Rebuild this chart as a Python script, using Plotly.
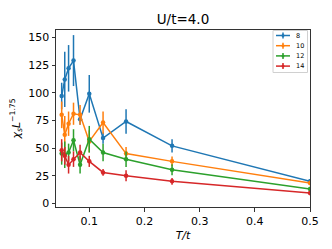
import plotly.graph_objects as go

T = [0.05, 1/18, 0.0625, 1/14, 1/12, 0.1, 0.125, 1/6, 0.25, 0.5]
labels = ["8", "10", "12", "14"]
colors = ["#1f77b4", "#ff7f0e", "#2ca02c", "#d62728"]

y8 = [97, 112, 122, 129, 76, 99, 59, 74, 52, 20]
e8 = [12, 25, 21, 23, 5, 17, 5, 11, 6, 2]
y10 = [80, 62, 72, 81, 80, 56, 73, 45, 38, 18.5]
e10 = [12, 17, 11, 10, 9, 10, 10, 6, 4.5, 2]
y12 = [45, 44, 46, 57, 35, 58, 46, 40, 30.5, 13]
e12 = [10, 12, 8, 10, 8, 12, 8, 7, 5, 2]
y14 = [48, 43, 35, 40, 46, 38, 28, 25, 20, 9.5]
e14 = [10, 8, 8, 7, 7, 5, 3, 5, 3, 2]

series = [y8, y10, y12, y14]
errs = [e8, e10, e12, e14]

# page body has an 8px default margin: compensate so plot lands where reference has it
OFF = 8
W, H = 332, 249
ML, MR, MT, MB = 56 - OFF, 22 + OFF, 30 - OFF, 42 + OFF
PW, PH = W - ML - MR, H - MT - MB

def px(x):
    return (x - OFF - ML) / PW

def py(y):
    return (MT + PH - (y - OFF)) / PH

fig = go.Figure()
for lab, col, ys, es in zip(labels, colors, series, errs):
    fig.add_trace(go.Scatter(
        x=T, y=ys, name=lab, mode="lines+markers", showlegend=False,
        line=dict(color=col, width=1.5),
        marker=dict(color=col, size=4.5),
        error_y=dict(type="data", array=es, visible=True, color=col,
                     thickness=1.5, width=0),
    ))

# compact legend (matplotlib style)
shapes = [dict(type="rect", xref="paper", yref="paper",
               x0=px(273), x1=px(307.5), y0=py(72.5), y1=py(30.5),
               line=dict(color="#d0d0d0", width=1), fillcolor="rgba(255,255,255,0.8)",
               layer="above")]
annotations = []
for i, (lab, col) in enumerate(zip(labels, colors)):
    yy = 35.5 + i * 10.2
    shapes.append(dict(type="line", xref="paper", yref="paper",
                       x0=px(276), x1=px(290), y0=py(yy), y1=py(yy),
                       line=dict(color=col, width=1.5), layer="above"))
    shapes.append(dict(type="line", xref="paper", yref="paper",
                       x0=px(283), x1=px(283), y0=py(yy - 3), y1=py(yy + 3),
                       line=dict(color=col, width=1.5), layer="above"))
    shapes.append(dict(type="circle", xref="paper", yref="paper",
                       x0=px(281.5), x1=px(284.5), y0=py(yy + 1.5), y1=py(yy - 1.5),
                       line=dict(color=col, width=0), fillcolor=col, layer="above"))
    annotations.append(dict(text=lab, xref="paper", yref="paper",
                            x=px(294), y=py(yy), xanchor="left", yanchor="middle",
                            showarrow=False,
                            font=dict(family="DejaVu Sans", size=6.5, color="#000")))

axis_common = dict(showline=True, linecolor="#333", linewidth=1, mirror=True,
                   ticks="outside", ticklen=3.5, tickcolor="#333",
                   showgrid=False, zeroline=False, automargin=False,
                   tickfont=dict(family="DejaVu Sans", size=11, color="#000"))

fig.update_layout(
    width=W, height=H,
    margin=dict(l=ML, r=MR, t=MT, b=MB),
    paper_bgcolor="white", plot_bgcolor="white",
    title=dict(text="U/t=4.0", x=px(183), xanchor="center", xref="paper",
               y=1 - (19 - OFF) / H, yanchor="middle",
               font=dict(family="DejaVu Sans", size=13.5, color="#000")),
    xaxis=dict(range=[0.0397, 0.5], tickvals=[0.1, 0.2, 0.3, 0.4, 0.5],
               ticktext=["0.1", "0.2", "0.3", "0.4", "0.5"],
               title=dict(text="<i>T/t</i>", standoff=4,
                          font=dict(family="DejaVu Sans", size=11, color="#000")),
               **axis_common),
    yaxis=dict(range=[-3.2, 156.6], tickvals=[0, 25, 50, 75, 100, 125, 150],
               title=dict(text="<i>χ<sub>s</sub>L</i><sup>−1.75</sup>", standoff=6,
                          font=dict(family="DejaVu Sans", size=11, color="#000")),
               **axis_common),
    shapes=shapes,
    annotations=annotations,
    showlegend=False,
)

fig.write_html("out.html")
